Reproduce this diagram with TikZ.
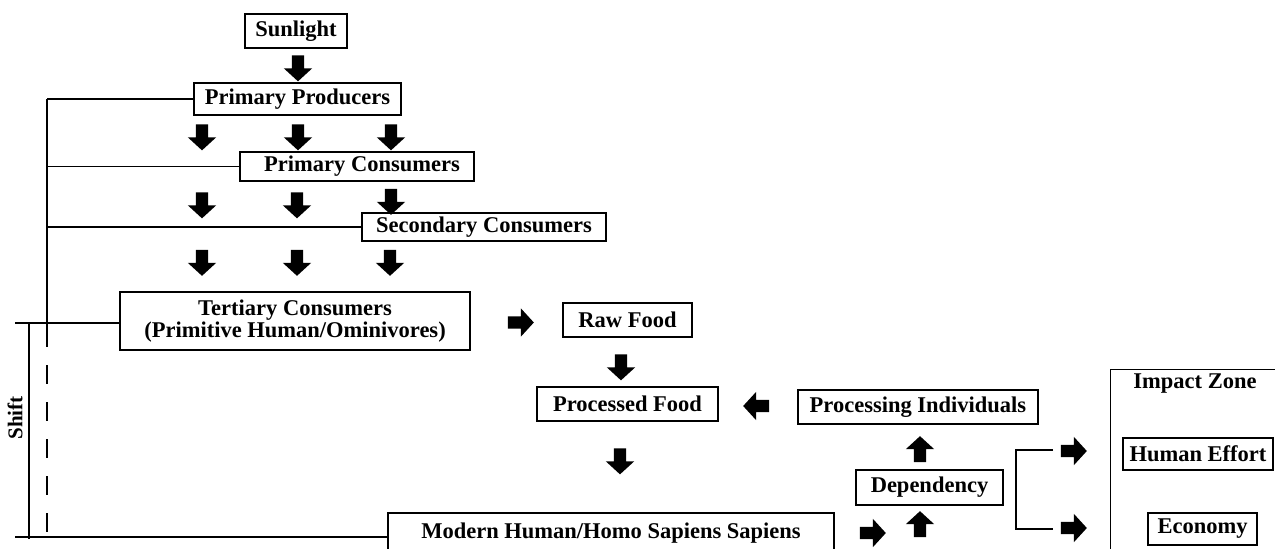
\documentclass[tikz,border=0pt]{standalone}
\usepackage{fontspec}
\setmainfont{Liberation Serif}
\usetikzlibrary{shapes.arrows}
\tikzset{
  box/.style={draw, line width=1.2pt, inner sep=0pt, align=center},
  blk/.style={shape=single arrow, fill=black, draw=none, inner sep=6pt,
    minimum height=26pt, minimum width=0pt, single arrow head extend=8pt, single arrow tip angle=95},
  dn/.style={blk, rotate=-90},
  up/.style={blk, rotate=90},
  rt/.style={blk},
  lf/.style={blk, rotate=180},
  ln/.style={line width=1.2pt}
}
\begin{document}
\begin{tikzpicture}[x=1pt,y=-1pt,font={\fontsize{22.5}{22.5}\selectfont\bfseries}]
\useasboundingbox (0,0) rectangle (1275,549);
\clip (0,0) rectangle (1275,549);
% boxes
\node[box, minimum width=102, minimum height=34] (sun) at (296,31) {Sunlight};
\node[box, minimum width=207, minimum height=32] (pp) at (297.5,99) {Primary Producers};
\node[box, minimum width=234, minimum height=29] (pc) at (357,166.5) {\hspace*{10pt}Primary Consumers};
\node[box, minimum width=244, minimum height=28] (sc) at (484,227) {Secondary Consumers};
\node[box, minimum width=350, minimum height=58] (ter) at (295,321) {Tertiary Consumers\\(Primitive Human/Ominivores)};
\node[box, minimum width=129, minimum height=34] (raw) at (627.5,320) {Raw Food};
\node[box, minimum width=181, minimum height=34] (proc) at (627.5,404) {Processed Food};
\node[box, minimum width=240, minimum height=34] (pind) at (918,407) {Processing Individuals};
\node[box, minimum width=147, minimum height=35] (dep) at (929.5,487.5) {Dependency};
\node[box, minimum width=446, minimum height=40] (mod) at (611,533) {Modern Human/Homo Sapiens Sapiens};
\node[box, anchor=north west, minimum width=190, minimum height=200] (iz) at (1110,369) {};
\node (izt) at (1195,384) {Impact Zone};
\node[box, minimum width=150, minimum height=32] (he) at (1198,454) {Human Effort};
\node[box, minimum width=109, minimum height=32] (eco) at (1202.5,529) {Economy};
% block arrows
\node[dn] (a0) at (298,65.5) {};
\node[dn] (a11) at (202,134.5) {};
\node[dn] (a12) at (298,134.5) {};
\node[dn] (a13) at (391,134.5) {};
\node[dn] (a21) at (202,202.5) {};
\node[dn] (a22) at (297,202.5) {};
\node[dn] (a23) at (391,199) {};
\node[dn] (a31) at (202,260) {};
\node[dn] (a32) at (297,260) {};
\node[dn] (a33) at (390,260) {};
\node[rt] (b1) at (518,322.5) {};
\node[dn] (b2) at (621,364.5) {};
\node[lf] (b3) at (759,406) {};
\node[dn] (b4) at (620,458.5) {};
\node[up] (b5) at (920,452) {};
\node[rt] (b6) at (870,533) {};
\node[up] (b7) at (920,527) {};
\node[rt] (b8) at (1071,451) {};
\node[rt] (b9) at (1071,528) {};
% left lines
\coordinate (vtop) at (47,98);
\coordinate (vsolid) at (47,347);
\coordinate (vbot) at (47,537);
\coordinate (t1) at (15,323);
\coordinate (b1l) at (15,537);
\coordinate (s1) at (29,323);
\coordinate (s2) at (29,539);
\draw[ln] (pp.west) -- (pp.west -| vtop);
\draw[ln] (pc.west) -- (pc.west -| vtop);
\draw[ln] (sc.west) -- (sc.west -| vtop);
\draw[ln] (pp.west -| vtop) -- (vsolid);
\draw[ln, dash pattern=on 19pt off 18pt, dash phase=19pt] (vsolid) -- (vbot);
\draw[ln] (t1) -- (t1 -| ter.west);
\draw[ln] (b1l) -- (b1l -| mod.west);
\draw[ln] (s1) -- (s2);
\node[rotate=90, font={\fontsize{21}{21}\selectfont\bfseries}] (shift) at (15,418) {Shift};
% bracket
\coordinate (k1) at (1016,450);
\coordinate (k2) at (1016,529);
\coordinate (k3) at (1053,450);
\coordinate (k4) at (1053,529);
\draw[ln] (k3) -- (k1) -- (k2) -- (k4);
\end{tikzpicture}
\end{document}
